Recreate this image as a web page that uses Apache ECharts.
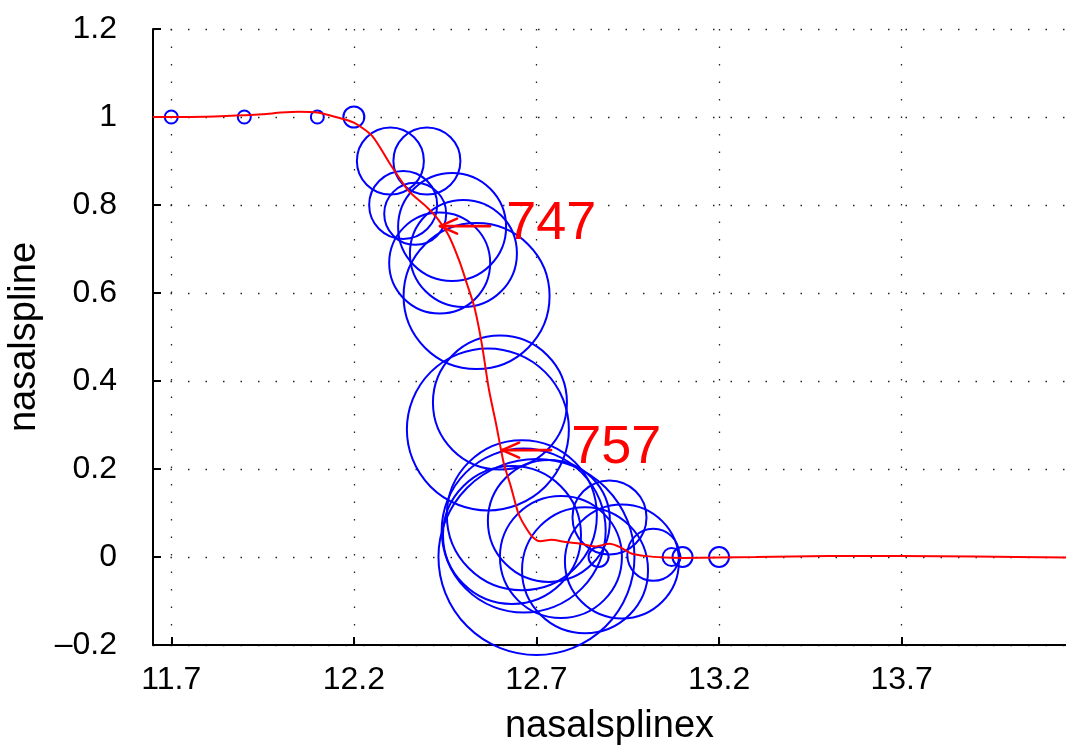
<!DOCTYPE html>
<html>
<head>
<meta charset="utf-8">
<script src="https://cdn.jsdelivr.net/npm/echarts@6/dist/echarts.min.js"></script>
<style>
html,body{margin:0;padding:0;background:#fff;}
#chart{width:1066px;height:746px;}
</style>
</head>
<body>
<div id="chart"></div>
<script>
// ---- data ----
const curveX = [11.65, 11.75, 11.85, 11.95, 12.0, 12.05, 12.1, 12.15, 12.2, 12.25, 12.3, 12.35, 12.4, 12.43, 12.46, 12.49, 12.51, 12.53, 12.55, 12.57, 12.59, 12.61, 12.63, 12.65, 12.67, 12.69, 12.71, 12.74, 12.78, 12.82, 12.86, 12.9, 12.93, 12.96, 13.0, 13.05, 13.1, 13.2, 13.3, 13.5, 13.7, 13.9, 14.15];
const curveY = [1.0, 1.0, 1.002, 1.006, 1.01, 1.012, 1.01, 1.0, 0.987, 0.957, 0.892, 0.832, 0.795, 0.768, 0.73, 0.67, 0.62, 0.568, 0.486, 0.38, 0.30, 0.215, 0.16, 0.10, 0.068, 0.045, 0.036, 0.039, 0.034, 0.03, 0.024, 0.03, 0.022, 0.008, 0.002, -0.001, -0.002, -0.001, 0.0, 0.002, 0.002, 0.001, -0.001];

const circleX = [11.70, 11.90, 12.10, 12.20, 12.30, 12.40, 12.335, 12.368, 12.469, 12.435, 12.50, 12.536, 12.60, 12.567, 12.70, 12.66, 12.665, 12.633, 12.734, 12.767, 12.833, 12.90, 12.934, 12.87, 13.02, 13.07, 13.10, 13.20];
const circleY = [1.0, 1.0, 1.0, 1.0, 0.90, 0.90, 0.80, 0.78, 0.75, 0.668, 0.69, 0.593, 0.351, 0.29, 0.0, 0.095, 0.06, 0.05, 0.082, 0.0, -0.03, 0.09, -0.01, 0.0, 0.005, 0.0, 0.0, 0.0];
const circleR = [6.5, 6.5, 6.5, 10.5, 33.5, 33.5, 34, 31, 54, 50.5, 53.5, 73, 67, 81, 98, 75, 82, 69, 61, 61, 63, 37, 57, 10, 26, 9, 10, 10];

const xTicks = [11.7, 12.2, 12.7, 13.2, 13.7];
const yTicks = [-0.2, 0, 0.2, 0.4, 0.6, 0.8, 1, 1.2];

const noteLabels = ['747', '757'];
const noteTipX = [12.436, 12.606];
const noteTipY = [0.752, 0.243];
const noteTailX = [12.573, 12.74];
const noteTextX = [12.617, 12.795];
const noteTextY = [0.757, 0.248];

// ---- chart ----
const FONT = "'Liberation Sans', Arial, Helvetica, sans-serif";
const chart = echarts.init(document.getElementById('chart'), null, {renderer: 'canvas'});

const gridDots = {show: true, lineStyle: {color: '#222', width: 1.3, type: [1.5, 16]}};

const option = {
  animation: false,
  backgroundColor: '#fff',
  grid: {left: 153, right: 0, top: 29, bottom: 101, containLabel: false, outerBoundsMode: 'none'},
  xAxis: {
    type: 'value', min: 11.65, max: 14.15,
    name: 'nasalsplinex', nameLocation: 'middle', nameGap: 63,
    nameTextStyle: {fontFamily: FONT, fontSize: 38, color: '#000'},
    axisLine: {show: true, onZero: false, lineStyle: {color: '#000', width: 2}},
    axisTick: {show: true, inside: true, length: 8, customValues: xTicks, lineStyle: {color: '#000', width: 2}},
    axisLabel: {customValues: xTicks, fontFamily: FONT, fontSize: 32, color: '#000', margin: 19,
      formatter: v => String(v)},
    splitLine: gridDots
  },
  yAxis: {
    type: 'value', min: -0.2, max: 1.2, interval: 0.2,
    name: 'nasalspline', nameLocation: 'middle', nameGap: 100,
    nameTextStyle: {fontFamily: FONT, fontSize: 38, color: '#000'},
    axisLine: {show: true, onZero: false, lineStyle: {color: '#000', width: 2}},
    axisTick: {show: true, inside: true, length: 8, lineStyle: {color: '#000', width: 2}},
    axisLabel: {fontFamily: FONT, fontSize: 32, color: '#000', margin: 36,
      formatter: v => {const s = String(Math.round(v * 10) / 10); return s.replace('-', '\u2013');}},
    splitLine: gridDots
  },
  series: [
    {
      type: 'scatter',
      data: circleX.map((x, i) => [x, circleY[i], circleR[i]]),
      symbol: 'circle',
      symbolSize: d => d[2] * 2,
      itemStyle: {color: 'rgba(0,0,0,0)', borderColor: '#0000ff', borderWidth: 2, opacity: 1},
      emphasis: {disabled: true},
      clip: false,
      z: 2
    },
    {
      type: 'line',
      data: curveX.map((x, i) => [x, curveY[i]]),
      showSymbol: false,
      smooth: 0.25,
      lineStyle: {color: '#ff0000', width: 2},
      clip: true,
      z: 3
    },
    {
      type: 'custom',
      data: noteLabels.map((t, i) => [noteTipX[i], noteTipY[i], noteTailX[i], noteTextX[i], noteTextY[i], i]),
      renderItem: (params, api) => {
        const tip = api.coord([api.value(0), api.value(1)]);
        const tail = api.coord([api.value(2), api.value(1)]);
        const txt = api.coord([api.value(3), api.value(4)]);
        const idx = api.value(5);
        const st = {stroke: '#ff0000', lineWidth: 2.6, lineCap: 'round'};
        return {
          type: 'group',
          children: [
            {type: 'line', shape: {x1: tail[0], y1: tail[1], x2: tip[0], y2: tip[1]}, style: st},
            {type: 'line', shape: {x1: tip[0], y1: tip[1], x2: tip[0] + 17, y2: tip[1] - 7.5}, style: st},
            {type: 'line', shape: {x1: tip[0], y1: tip[1], x2: tip[0] + 17, y2: tip[1] + 7.5}, style: st},
            {type: 'text', x: txt[0], y: txt[1], style: {text: noteLabels[idx], fill: '#ff0000', fontFamily: FONT, fontSize: 54, align: 'left', verticalAlign: 'middle'}}
          ]
        };
      },
      clip: false,
      z: 4
    }
  ]
};
chart.setOption(option);
</script>
</body>
</html>
